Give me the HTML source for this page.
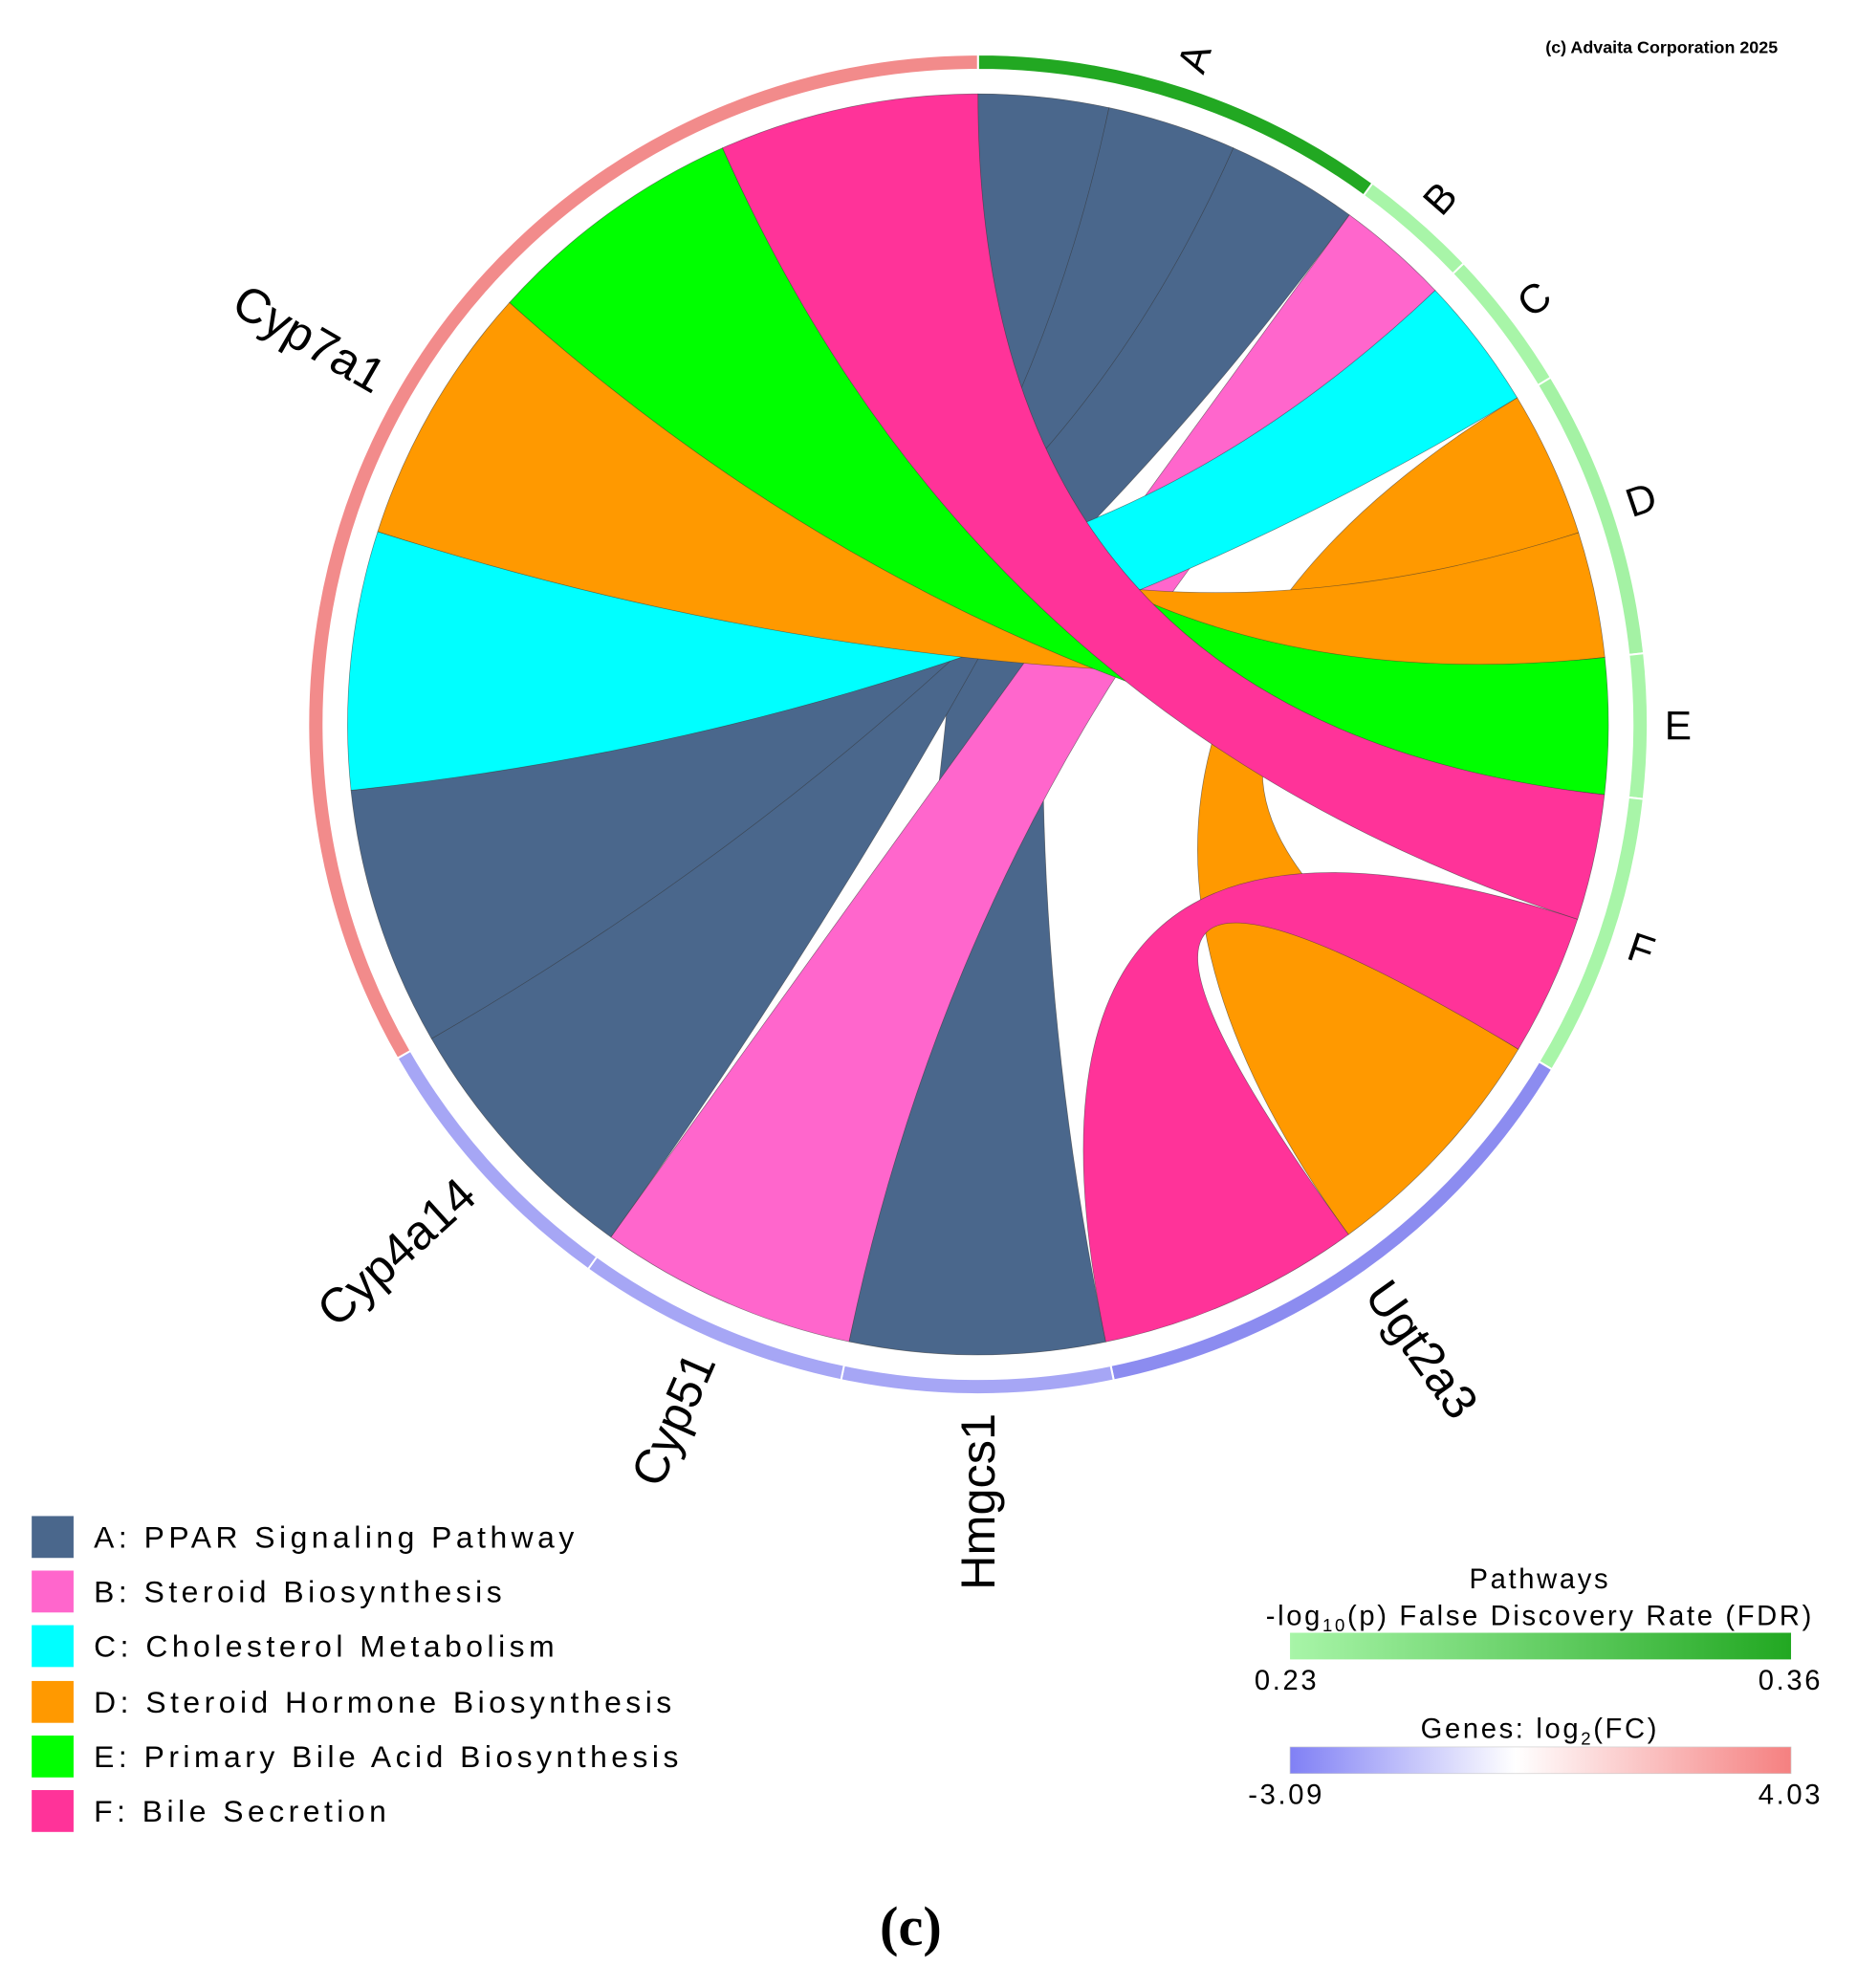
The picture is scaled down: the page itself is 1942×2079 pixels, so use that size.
<!DOCTYPE html>
<html><head><meta charset="utf-8">
<style>
html,body{margin:0;padding:0;background:#fff;}
svg{display:block;}
text{font-family:"Liberation Sans",sans-serif;}
</style></head>
<body>
<svg id="s" width="1942" height="2079" viewBox="0 0 1464 1567" preserveAspectRatio="none" xmlns="http://www.w3.org/2000/svg">
<defs>
<linearGradient id="gg" x1="0" x2="1" y1="0" y2="0"><stop offset="0" stop-color="#a8f5a8"/><stop offset="1" stop-color="#22a822"/></linearGradient>
<linearGradient id="rg" x1="0" x2="1" y1="0" y2="0"><stop offset="0" stop-color="#8080f5"/><stop offset="0.45" stop-color="#ffffff"/><stop offset="1" stop-color="#f58080"/></linearGradient>
</defs>
<g id="chords"></g>
<g id="ring"></g>
<g id="labels"></g>
<text x="1310" y="42" font-size="13.5" font-weight="bold" text-anchor="middle">(c) Advaita Corporation 2025</text>
<g font-size="24" letter-spacing="3.4">
<rect x="25" y="1195" width="33" height="33" fill="#4a678c"/><text x="74" y="1220">A: PPAR Signaling Pathway</text>
<rect x="25" y="1238" width="33" height="33" fill="#ff66cc"/><text x="74" y="1263">B: Steroid Biosynthesis</text>
<rect x="25" y="1281" width="33" height="33" fill="#00ffff"/><text x="74" y="1306">C: Cholesterol Metabolism</text>
<rect x="25" y="1325" width="33" height="33" fill="#ff9900"/><text x="74" y="1350">D: Steroid Hormone Biosynthesis</text>
<rect x="25" y="1368" width="33" height="33" fill="#00ff00"/><text x="74" y="1393">E: Primary Bile Acid Biosynthesis</text>
<rect x="25" y="1411" width="33" height="33" fill="#ff3399"/><text x="74" y="1436">F: Bile Secretion</text>
</g>
<g font-size="22" letter-spacing="2">
<text x="1214" y="1252" text-anchor="middle">Pathways</text>
<text x="1214" y="1281" text-anchor="middle">-log<tspan font-size="14" dy="5">10</tspan><tspan dy="-5">(p) False Discovery Rate (FDR)</tspan></text>
<rect x="1017" y="1287" width="395" height="21" fill="url(#gg)"/>
<text x="989" y="1332">0.23</text><text x="1437" y="1332" text-anchor="end">0.36</text>
<text x="1214" y="1370" text-anchor="middle">Genes: log<tspan font-size="14" dy="5">2</tspan><tspan dy="-5">(FC)</tspan></text>
<rect x="1017" y="1377" width="395" height="21" fill="url(#rg)" stroke="#ccc" stroke-width="0.5"/>
<text x="984" y="1422">-3.09</text><text x="1437" y="1422" text-anchor="end">4.03</text>
</g>
<text x="718" y="1533" font-size="44" font-weight="bold" text-anchor="middle" style="font-family:'Liberation Serif',serif">(c)</text>
</svg>
<script>
var cx=771,cy=571,R=497,NS="http://www.w3.org/2000/svg";
function P(a,r){var t=a*Math.PI/180;return [cx+r*Math.sin(t),cy-r*Math.cos(t)];}
function arc(a1,a2,r,sweep){var p=P(a2,r);var large=Math.abs(a2-a1)>180?1:0;return "A"+r+" "+r+" 0 "+large+" "+sweep+" "+p[0].toFixed(1)+" "+p[1].toFixed(1);}
function ribbon(a1,a2,b1,b2,col){
 var s=P(a1,R),e=P(b1,R);
 var d="M"+s[0]+" "+s[1]+arc(a1,a2,R,1)+"Q"+cx+" "+cy+" "+e[0]+" "+e[1]+arc(b1,b2,R,1)+"Q"+cx+" "+cy+" "+s[0]+" "+s[1]+"Z";
 var p=document.createElementNS(NS,"path");p.setAttribute("d",d);p.setAttribute("fill",col);p.setAttribute("stroke","#333");p.setAttribute("stroke-width","0.5");p.setAttribute("stroke-opacity","0.6");
 document.getElementById("chords").appendChild(p);}
var BL="#4a678c";
ribbon(0,12,168.3,191.8,BL);
ribbon(12,23.9,215.6,240.1,BL);
ribbon(23.9,36.1,240.1,264,BL);
ribbon(36.1,46.5,191.8,215.6,"#ff66cc");
ribbon(46.5,58.8,264,287.8,"#00ffff");
ribbon(58.8,72.3,121,144,"#ff9900");
ribbon(72.3,83.9,287.8,312,"#ff9900");
ribbon(83.9,96.4,312,336.1,"#00ff00");
ribbon(108,121,144,168.3,"#ff3399");
ribbon(96.4,108,336.1,360,"#ff3399");
function seg(a1,a2,col){var r1=516,r2=528;var s=P(a1,r2),q=P(a2,r1);
 var d="M"+s[0]+" "+s[1]+arc(a1,a2,r2,1)+"L"+q[0]+" "+q[1]+arc(a2,a1,r1,0)+"Z";
 var p=document.createElementNS(NS,"path");p.setAttribute("d",d);p.setAttribute("fill",col);p.setAttribute("stroke","#fff");p.setAttribute("stroke-width","1.5");
 document.getElementById("ring").appendChild(p);}
seg(0,36.1,"#22a822");seg(36.1,46.5,"#a8f5a8");seg(46.5,58.8,"#a8f5a8");seg(58.8,83.9,"#a4f2a4");seg(83.9,96.4,"#a8f5a8");seg(96.4,121,"#a8f5a8");
seg(121,168.3,"#8c8cf0");seg(168.3,191.8,"#a6a6f5");seg(191.8,215.6,"#a6a6f5");seg(215.6,240.1,"#a6a6f5");seg(240.1,360,"#f28b8b");
function lab(t,a,r,fs,rot,anchor){var p=P(a,r);var e=document.createElementNS(NS,"text");
 e.setAttribute("x",p[0]);e.setAttribute("y",p[1]);e.setAttribute("font-size",fs);e.setAttribute("text-anchor",anchor);e.setAttribute("dominant-baseline","central");
 e.setAttribute("transform","rotate("+rot+" "+p[0]+" "+p[1]+")");e.textContent=t;document.getElementById("labels").appendChild(e);}
[["A",18],["B",41.3],["C",52.6],["D",71.3],["E",90.1],["F",108.7]].forEach(function(x){lab(x[0],x[1],552,32,x[1]-90,"middle");});
lab("Ugt2a3",144.6,543,38,144.6-90,"start");
lab("Hmgcs1",180,543,38,180-270,"end");
lab("Cyp51",203.7,543,38,203.7-270,"end");
lab("Cyp4a14",227.8,543,38,227.8-270,"end");
lab("Cyp7a1",300,543,38,300-270,"end");
</script>
</body></html>
